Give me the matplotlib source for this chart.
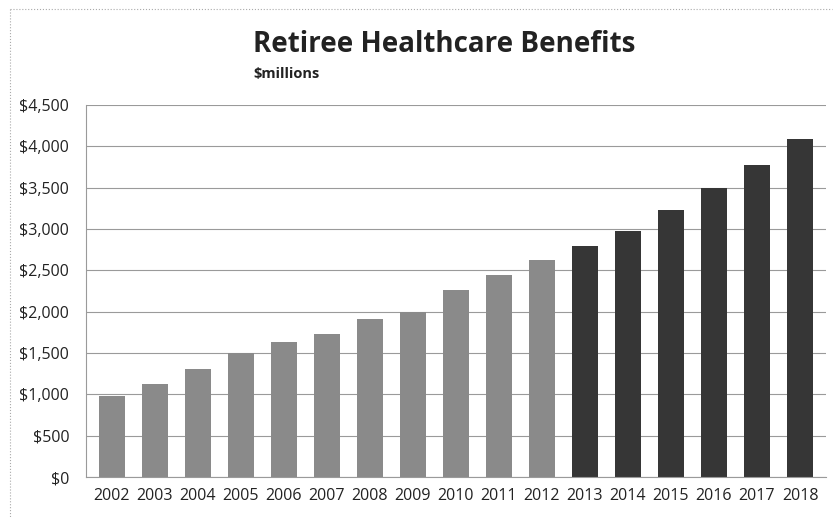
import matplotlib.pyplot as plt
from matplotlib.ticker import FuncFormatter
from matplotlib.lines import Line2D

plt.rcParams['font.family'] = ['Open Sans', 'DejaVu Sans']

years = [str(y) for y in range(2002, 2019)]
benefits = [980, 1130, 1310, 1500, 1640, 1730, 1910, 2000, 2260, 2445,
            2630, 2800, 2980, 3230, 3490, 3780, 4090]
# actuals through 2012, projections after
colors = ['#8a8a8a'] * 11 + ['#363636'] * 6

fig = plt.figure(figsize=(8.35, 5.17), dpi=100)
ax = fig.add_axes([0.103, 0.077, 0.886, 0.72])

ax.bar(years, benefits, width=0.6, color=colors, zorder=2)

ax.set_ylim(0, 4500)
ax.set_yticks(range(0, 4501, 500))
ax.yaxis.set_major_formatter(FuncFormatter(lambda v, p: f'${v:,.0f}'))
ax.set_xlim(-0.6, len(years) - 0.4)
ax.grid(axis='y', color='#9a9a9a', linewidth=0.8, zorder=0)
ax.tick_params(length=0, labelsize=11.5, colors='#222222', pad=8)
ax.tick_params(axis='y', pad=12)
for s in ['top', 'right']:
    ax.spines[s].set_visible(False)
for s in ['left', 'bottom']:
    ax.spines[s].set_color('#9a9a9a')
    ax.spines[s].set_linewidth(0.8)

fig.text(0.303, 0.913, 'Retiree Healthcare Benefits', ha='left', va='center',
         fontsize=20, fontweight='bold', color='#222222')
fig.text(0.303, 0.857, '$millions', ha='left', va='center',
         fontsize=10.5, fontweight='bold', color='#222222')

# scanned page border: only the top and left edges show
border = dict(transform=fig.transFigure, color='#aaaaaa', linewidth=0.8, linestyle=':')
fig.lines.append(Line2D([0.012, 0.997], [0.983, 0.983], **border))
fig.lines.append(Line2D([0.012, 0.012], [0.983, 0.0], **border))

fig.savefig('out.png', dpi=100)
